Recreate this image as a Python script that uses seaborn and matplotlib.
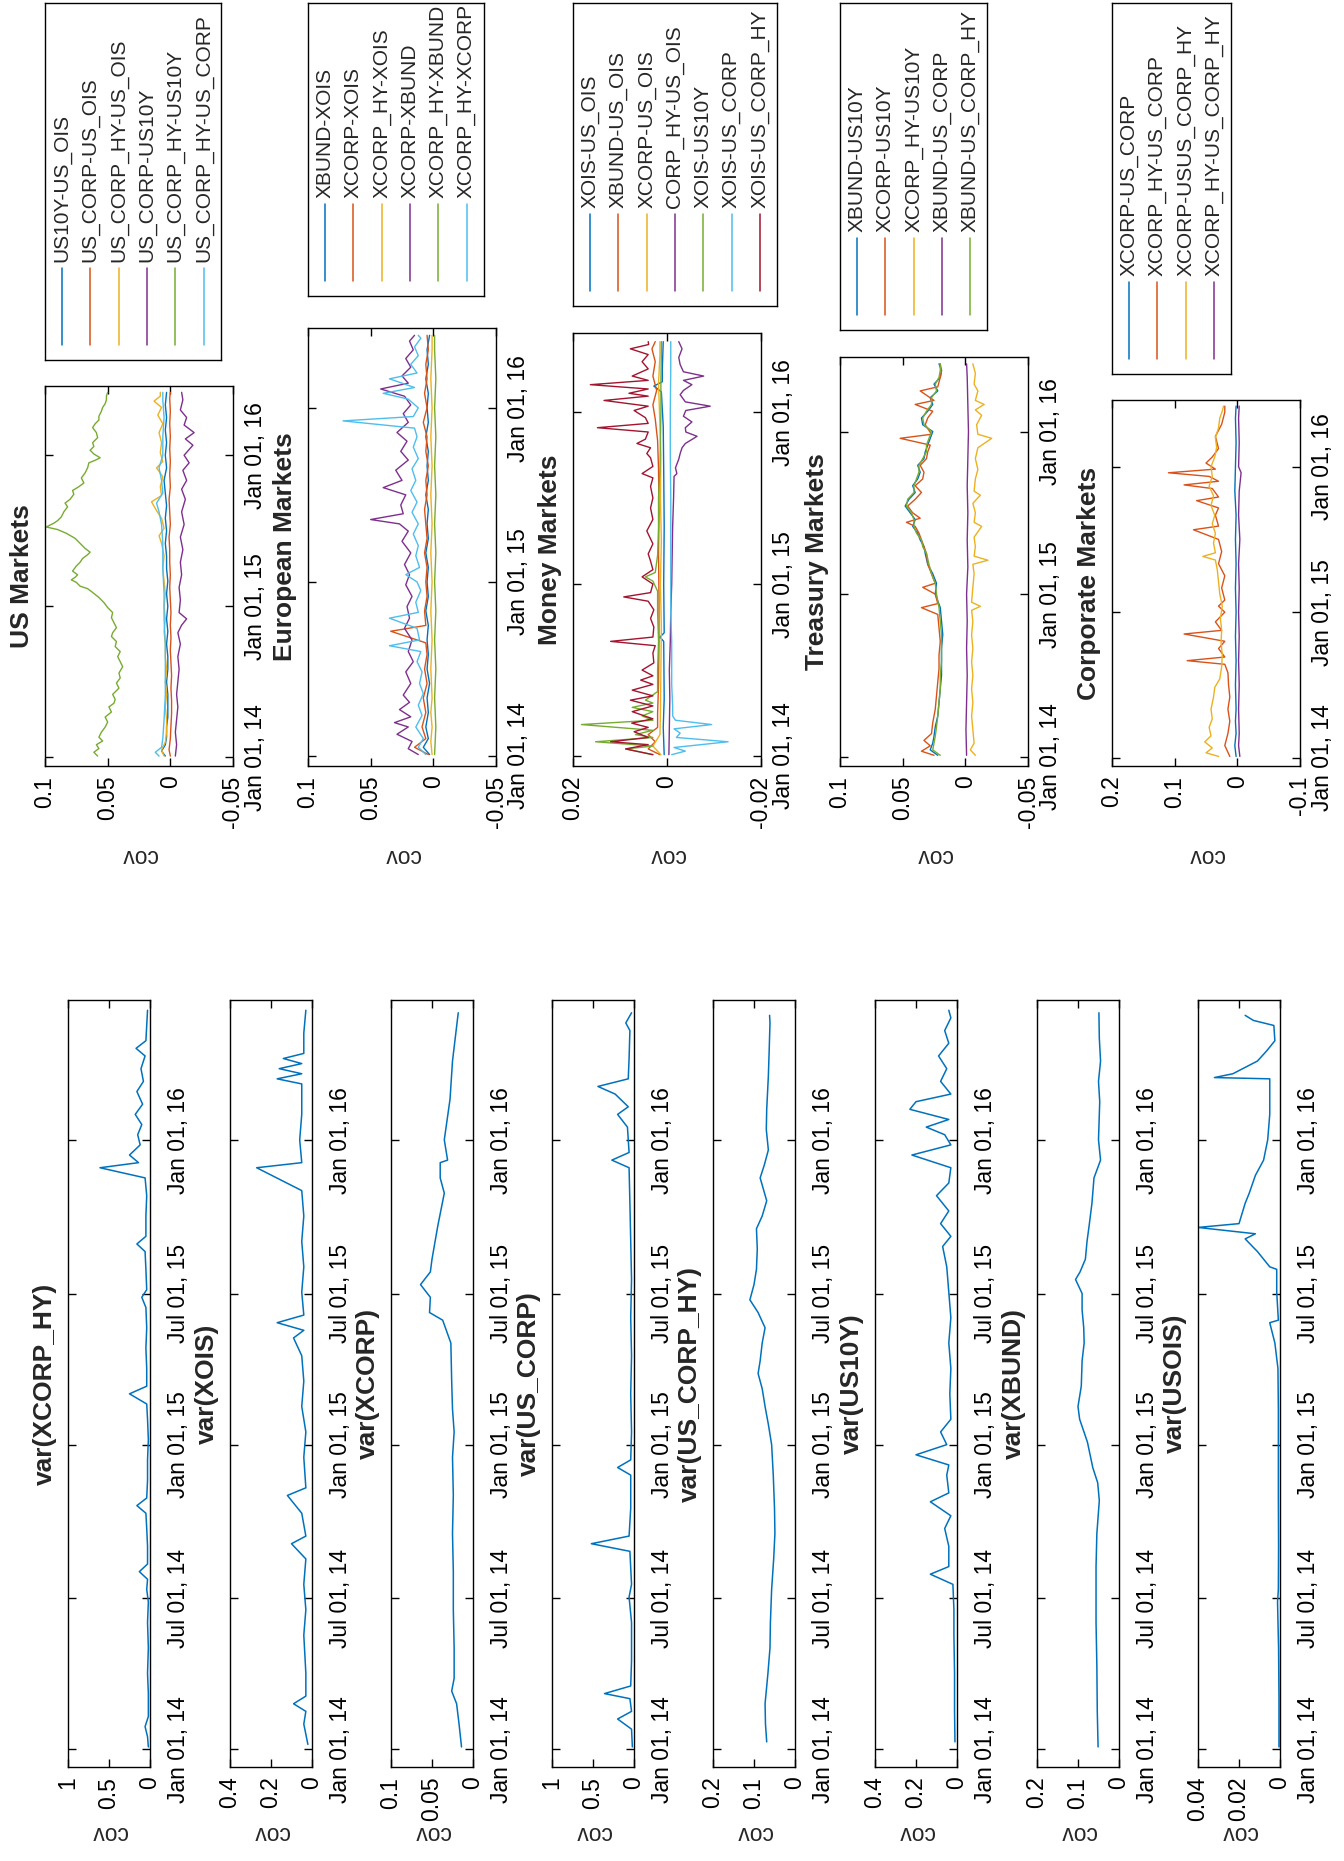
import numpy as np
import pandas as pd
import matplotlib
matplotlib.use("Agg")
import matplotlib.pyplot as plt
import matplotlib.dates as mdates
import seaborn as sns

# ---------------------------------------------------------------
# DATA  (time = months since 2014-01-01, value = covariance)
# ---------------------------------------------------------------
var_titles = ["var(XCORP_HY)", "var(XOIS)", "var(XCORP)", "var(US_CORP)",
              "var(US_CORP_HY)", "var(US10Y)", "var(XBUND)", "var(USOIS)"]

var_xcorp_hy = [(0.1,0.02),(0.5,0.03),(0.9,0.06),(1.3,0.02),(2.2,0.02),(3.0,0.03),(4.0,0.02),(5.0,0.03),
                (5.8,0.02),(6.3,0.04),(6.7,0.03),(7.0,0.13),(7.3,0.03),(8.0,0.03),(8.7,0.04),(9.3,0.05),
                (9.6,0.16),(9.9,0.04),(10.6,0.03),(11.4,0.03),(12.2,0.02),(13.0,0.03),(13.6,0.04),(14.0,0.25),
                (14.3,0.04),(15.0,0.04),(15.8,0.05),(16.6,0.04),(17.4,0.05),(17.8,0.10),(18.1,0.04),(18.9,0.05),
                (19.6,0.06),(19.9,0.16),(20.2,0.05),(21.0,0.05),(21.8,0.04),(22.5,0.06),(22.9,0.61),(23.1,0.14),
                (23.4,0.25),(23.8,0.12),(24.2,0.15),(24.6,0.10),(25.0,0.18),(25.4,0.09),(25.9,0.16),(26.3,0.08),
                (26.8,0.11),(27.3,0.06),(27.6,0.17),(27.9,0.05),(28.5,0.04),(29.1,0.03)]
var_xois = [(0.2,0.02),(1.0,0.04),(1.5,0.03),(1.8,0.09),(2.1,0.03),(3.0,0.03),(4.5,0.04),(5.5,0.03),
            (6.5,0.04),(7.5,0.03),(8.1,0.10),(8.4,0.03),(9.3,0.05),(10.0,0.12),(10.3,0.03),(11.5,0.04),
            (12.5,0.03),(13.5,0.05),(14.5,0.04),(15.5,0.05),(16.2,0.09),(16.5,0.04),(16.8,0.17),(17.1,0.04),
            (18.0,0.05),(19.0,0.04),(20.0,0.05),(21.0,0.04),(22.0,0.05),(22.9,0.27),(23.1,0.05),(24.0,0.06),
            (25.0,0.05),(26.2,0.05),(26.4,0.17),(26.6,0.05),(26.8,0.16),(27.0,0.05),(27.2,0.14),(27.4,0.04),
            (28.2,0.04),(29.1,0.03)]
var_xcorp = [(0.1,0.014),(1.0,0.017),(1.8,0.020),(2.3,0.026),(2.8,0.023),(4.0,0.023),(5.5,0.024),(7.0,0.024),
             (8.5,0.025),(10.0,0.024),(11.5,0.025),(12.5,0.023),(13.4,0.025),(14.5,0.026),(16.0,0.027),
             (16.9,0.037),(17.2,0.053),(17.8,0.052),(18.3,0.064),(18.8,0.052),(19.3,0.050),(20.6,0.043),
             (21.9,0.035),(22.5,0.040),(23.1,0.040),(23.2,0.031),(24.0,0.035),(25.6,0.028),(27.1,0.025),
             (29.0,0.018)]
var_us_corp = [(0.1,0.02),(0.8,0.03),(1.2,0.20),(1.5,0.03),(2.0,0.05),(2.2,0.36),(2.5,0.04),(3.5,0.03),
               (5.0,0.03),(6.0,0.06),(6.5,0.03),(7.8,0.05),(8.1,0.52),(8.4,0.06),(9.5,0.04),(10.8,0.04),
               (11.1,0.20),(11.4,0.04),(12.5,0.03),(14.0,0.04),(15.5,0.03),(17.0,0.04),(18.5,0.03),(20.0,0.04),
               (21.5,0.05),(22.9,0.06),(23.2,0.27),(23.5,0.06),(24.5,0.08),(25.0,0.20),(25.3,0.07),(25.8,0.23),
               (26.1,0.44),(26.4,0.07),(27.2,0.06),(28.3,0.05),(28.6,0.10),(29.0,0.03)]
var_us_corp_hy = [(0.3,0.069),(1.0,0.072),(1.8,0.073),(3.0,0.066),(4.0,0.061),(5.0,0.060),(6.3,0.057),
                  (7.5,0.052),(8.5,0.049),(9.5,0.050),(10.8,0.053),(12.0,0.057),(12.8,0.065),(13.5,0.073),
                  (14.2,0.080),(14.8,0.090),(15.3,0.085),(16.0,0.080),(16.6,0.073),(17.2,0.090),(17.7,0.110),
                  (18.3,0.100),(18.9,0.094),(19.7,0.092),(20.5,0.094),(21.0,0.080),(21.6,0.069),(22.5,0.085),
                  (23.0,0.075),(23.6,0.065),(24.4,0.070),(25.2,0.069),(26.5,0.065),(27.5,0.063),(28.6,0.061),
                  (28.9,0.062)]
var_us10y = [(0.3,0.010),(1.5,0.012),(3.0,0.012),(4.5,0.015),(5.5,0.015),(6.5,0.020),(6.9,0.130),(7.2,0.040),
             (8.0,0.040),(8.7,0.060),(9.2,0.030),(9.75,0.130),(10.1,0.040),(10.8,0.050),(11.2,0.040),
             (11.6,0.200),(12.0,0.050),(12.5,0.080),(13.0,0.030),(14.0,0.035),(15.0,0.030),(16.0,0.040),
             (17.0,0.030),(18.0,0.040),(19.0,0.050),(19.8,0.070),(20.2,0.030),(20.7,0.080),(21.2,0.040),
             (21.8,0.100),(22.3,0.040),(22.9,0.030),(23.4,0.220),(23.8,0.030),(24.2,0.060),(24.5,0.150),
             (24.8,0.040),(25.2,0.230),(25.5,0.200),(25.8,0.030),(26.3,0.080),(26.8,0.050),(27.3,0.090),
             (27.8,0.040),(28.3,0.060),(28.8,0.030),(29.1,0.040)]
var_xbund = [(0.1,0.051),(1.5,0.053),(3.3,0.054),(5.0,0.056),(7.2,0.056),(8.5,0.054),(9.8,0.048),(10.5,0.052),
             (11.1,0.064),(12.1,0.077),(13.0,0.096),(13.5,0.100),(14.3,0.092),(15.3,0.090),(16.0,0.085),
             (16.6,0.086),(17.3,0.090),(17.95,0.090),(18.5,0.106),(18.8,0.095),(19.3,0.082),(20.0,0.078),
             (20.6,0.073),(21.5,0.066),(22.5,0.061),(23.2,0.045),(24.0,0.050),(24.5,0.049),(25.5,0.047),
             (26.3,0.050),(27.1,0.045),(28.0,0.048),(29.0,0.049)]
var_usois = [(0.1,0.0005),(2.0,0.0005),(4.0,0.0007),(5.8,0.0012),(6.3,0.0008),(8.0,0.0007),(10.0,0.0008),
             (12.0,0.0008),(13.4,0.0008),(15.0,0.0010),(16.0,0.0025),(16.8,0.0050),(16.9,0.0008),
             (18.0,0.0016),(18.9,0.0016),(19.0,0.0050),(19.6,0.0110),(20.1,0.0170),(20.3,0.0120),
             (20.55,0.0400),(20.7,0.0200),(21.5,0.0170),(21.9,0.0150),(22.6,0.0120),(23.2,0.0080),
             (24.0,0.0060),(25.0,0.0050),(26.4,0.0050),(26.45,0.0320),(26.6,0.0230),(27.1,0.0110),
             (27.5,0.0065),(27.9,0.0025),(28.5,0.0030),(28.7,0.0130),(28.9,0.0170)]

var_ranges = [(0, 1), (0, 0.4), (0, 0.1), (0, 1), (0, 0.2), (0, 0.4), (0, 0.2), (0, 0.04)]
var_ticks = [[0, 0.5, 1], [0, 0.2, 0.4], [0, 0.05, 0.1], [0, 0.5, 1],
             [0, 0.1, 0.2], [0, 0.2, 0.4], [0, 0.1, 0.2], [0, 0.02, 0.04]]
var_ticklabels = [["0", "0.5", "1"], ["0", "0.2", "0.4"], ["0", "0.05", "0.1"], ["0", "0.5", "1"],
                  ["0", "0.1", "0.2"], ["0", "0.2", "0.4"], ["0", "0.1", "0.2"], ["0", "0.02", "0.04"]]

# --- US Markets
us_names = ["US10Y-US_OIS", "US_CORP-US_OIS", "US_CORP_HY-US_OIS", "US_CORP-US10Y",
            "US_CORP_HY-US10Y", "US_CORP_HY-US_CORP"]
us_1 = [(0.1,0.004),(0.5,0.007),(1.0,0.004),(1.6,0.003),(2.4,0.003),(3.2,0.002),(4.0,0.002),(5.0,0.002),
        (6.0,0.003),(7.0,0.002),(8.0,0.002),(9.0,0.003),(10.0,0.002),(11.0,0.003),(12.0,0.002),(13.0,0.003),
        (14.0,0.002),(15.0,0.003),(16.0,0.003),(17.0,0.004),(18.0,0.003),(19.0,0.004),(20.0,0.003),
        (21.0,0.004),(22.0,0.005),(23.0,0.003),(24.0,0.004),(25.0,0.003),(26.0,0.004),(27.0,0.003),
        (28.0,0.004),(29.0,0.003)]
us_2 = [(0.1,0.000),(0.6,0.001),(1.5,0.000),(2.5,-0.0005),(3.5,-0.001),(4.5,-0.001),(5.5,-0.0005),
        (6.5,-0.001),(7.5,-0.0005),(8.5,0.000),(9.5,-0.0005),(10.5,0.000),(11.5,-0.0005),(12.5,0.000),
        (13.5,0.0005),(14.5,0.000),(15.5,0.0005),(16.5,0.0005),(17.5,0.001),(18.5,0.000),(19.5,0.0005),
        (20.5,0.001),(21.5,0.000),(22.5,0.0005),(23.5,0.000),(24.5,0.0005),(25.5,0.000),(26.5,0.0005),
        (27.5,0.000),(28.5,0.0005),(29.0,0.000)]
us_3 = [(0.1,0.005),(0.6,0.007),(1.2,0.004),(2.0,0.003),(3.0,0.003),(4.0,0.004),(5.0,0.003),(6.0,0.004),
        (7.0,0.003),(8.0,0.004),(9.0,0.004),(10.0,0.005),(11.0,0.004),(12.0,0.005),(13.0,0.004),(14.0,0.005),
        (15.0,0.006),(16.0,0.005),(17.0,0.007),(17.6,0.009),(18.2,0.005),(19.0,0.007),(19.6,0.011),
        (20.3,0.015),(20.8,0.007),(21.5,0.008),(22.3,0.006),(23.0,0.011),(23.5,0.006),(24.2,0.008),
        (25.0,0.007),(25.8,0.009),(26.5,0.006),(27.2,0.010),(27.8,0.007),(28.3,0.013),(28.7,0.008),(29.0,0.008)]
us_4 = [(0.1,-0.004),(1.0,-0.005),(2.0,-0.004),(3.0,-0.005),(4.0,-0.006),(5.0,-0.005),(6.0,-0.006),
        (7.0,-0.007),(8.0,-0.006),(9.0,-0.008),(9.9,-0.006),(10.5,-0.009),(11.0,-0.013),(11.5,-0.007),
        (12.5,-0.008),(13.5,-0.007),(14.5,-0.009),(15.5,-0.008),(16.5,-0.010),(17.5,-0.008),(18.5,-0.011),
        (19.5,-0.009),(20.5,-0.012),(21.3,-0.009),(22.0,-0.013),(22.8,-0.010),(23.4,-0.015),(24.0,-0.011),
        (24.8,-0.018),(25.3,-0.012),(25.8,-0.019),(26.4,-0.011),(27.0,-0.013),(27.6,-0.008),(28.4,-0.010),
        (29.0,-0.009)]
us_5 = [(0.1,0.058),(0.4,0.061),(0.7,0.057),(1.0,0.059),(1.3,0.054),(1.6,0.057),(2.0,0.055),(2.4,0.052),
        (2.8,0.050),(3.2,0.052),(3.6,0.047),(4.0,0.049),(4.3,0.045),(4.6,0.044),(5.0,0.046),(5.5,0.041),
        (5.9,0.043),(6.3,0.040),(6.7,0.041),(7.2,0.038),(7.6,0.040),(8.0,0.042),(8.4,0.040),(8.8,0.044),
        (9.2,0.043),(9.6,0.047),(9.9,0.046),(10.3,0.043),(10.7,0.045),(11.1,0.047),(11.5,0.046),(11.9,0.050),
        (12.3,0.053),(12.7,0.057),(13.1,0.062),(13.4,0.066),(13.6,0.072),(13.9,0.075),(14.1,0.079),
        (14.3,0.076),(14.5,0.074),(14.8,0.078),(15.2,0.075),(15.5,0.072),(15.8,0.070),(16.1,0.066),
        (16.3,0.064),(16.6,0.068),(17.0,0.072),(17.4,0.076),(17.8,0.083),(18.1,0.090),(18.3,0.099),
        (18.6,0.093),(18.8,0.090),(19.1,0.087),(19.5,0.085),(19.9,0.082),(20.2,0.084),(20.5,0.080),
        (20.9,0.077),(21.2,0.078),(21.5,0.073),(21.8,0.069),(22.2,0.071),(22.6,0.068),(23.0,0.066),
        (23.4,0.065),(23.6,0.060),(23.8,0.056),(24.1,0.061),(24.4,0.064),(24.7,0.061),(25.0,0.062),
        (25.4,0.058),(25.8,0.059),(26.2,0.062),(26.5,0.060),(26.8,0.057),(27.1,0.057),(27.5,0.055),
        (27.8,0.054),(28.1,0.052),(28.4,0.051),(28.7,0.051),(29.0,0.050)]
us_6 = [(0.1,0.009),(0.4,0.012),(0.8,0.007),(1.5,0.006),(3.0,0.005),(5.0,0.004),(7.0,0.004),(9.0,0.004),
        (11.0,0.005),(13.0,0.005),(15.0,0.006),(17.0,0.006),(18.5,0.007),(19.5,0.009),(20.2,0.011),
        (21.0,0.006),(22.0,0.007),(23.0,0.009),(24.0,0.006),(25.5,0.006),(27.0,0.005),(28.4,0.006),(29.0,0.006)]

# --- European Markets
eu_names = ["XBUND-XOIS", "XCORP-XOIS", "XCORP_HY-XOIS", "XCORP-XBUND", "XCORP_HY-XBUND", "XCORP_HY-XCORP"]
eu_1 = [(0.1,0.003),(0.6,0.008),(1.2,0.004),(2.0,0.006),(3.0,0.004),(4.0,0.005),(5.0,0.003),(6.0,0.005),
        (7.0,0.004),(8.0,0.005),(9.0,0.004),(10.0,0.006),(11.0,0.004),(12.0,0.005),(13.0,0.004),(14.0,0.006),
        (15.0,0.004),(16.0,0.005),(17.0,0.004),(18.0,0.006),(19.0,0.004),(20.0,0.005),(21.0,0.004),
        (22.0,0.006),(23.0,0.004),(24.0,0.005),(25.0,0.004),(26.0,0.006),(27.0,0.004),(28.0,0.005),(29.0,0.003)]
eu_2 = [(0.1,0.004),(0.6,0.015),(1.2,0.006),(2.0,0.009),(3.0,0.006),(4.0,0.008),(5.0,0.005),(6.0,0.007),
        (7.0,0.005),(7.8,0.006),(8.6,0.034),(9.0,0.006),(10.0,0.007),(11.0,0.005),(12.0,0.006),(13.0,0.005),
        (14.0,0.007),(15.0,0.005),(16.0,0.006),(17.0,0.007),(18.0,0.005),(19.0,0.006),(20.0,0.004),
        (21.0,0.006),(22.0,0.005),(23.0,0.008),(24.0,0.005),(25.0,0.007),(26.0,0.005),(27.0,0.006),
        (28.0,0.004),(29.0,0.005)]
eu_3 = [(0.1,0.001),(1.0,0.002),(2.0,0.001),(3.0,0.002),(4.0,0.001),(6.0,0.002),(8.0,0.001),(10.0,0.002),
        (12.0,0.001),(14.0,0.002),(16.0,0.001),(18.0,0.002),(20.0,0.001),(22.0,0.002),(24.0,0.001),
        (26.0,0.002),(28.0,0.001),(29.0,0.001)]
eu_4 = [(0.1,0.012),(0.5,0.020),(1.0,0.017),(1.5,0.029),(2.0,0.020),(2.3,0.031),(2.7,0.018),(3.2,0.027),
        (3.7,0.019),(4.2,0.024),(5.0,0.018),(5.8,0.022),(6.5,0.016),(7.2,0.020),(8.0,0.017),(8.8,0.023),
        (9.5,0.019),(10.3,0.021),(11.0,0.017),(11.8,0.022),(12.5,0.019),(13.2,0.023),(14.0,0.018),
        (14.8,0.025),(15.5,0.020),(16.0,0.027),(16.3,0.050),(16.7,0.024),(17.3,0.026),(18.0,0.022),
        (18.5,0.040),(19.0,0.025),(19.7,0.030),(20.4,0.020),(21.0,0.026),(21.7,0.021),(22.3,0.029),
        (23.0,0.020),(23.6,0.024),(24.2,0.018),(24.8,0.023),(25.3,0.042),(25.7,0.020),(26.2,0.025),
        (26.8,0.018),(27.4,0.022),(28.0,0.016),(28.6,0.019),(29.0,0.015)]
eu_5 = [(0.1,-0.001),(2.0,-0.002),(4.0,-0.001),(6.0,-0.002),(8.0,-0.001),(10.0,-0.002),(12.0,-0.001),
        (14.0,-0.002),(16.0,-0.001),(18.0,-0.002),(20.0,-0.001),(22.0,-0.002),(24.0,-0.001),(26.0,-0.002),
        (28.0,-0.001),(29.0,-0.001)]
eu_6 = [(0.1,0.006),(0.6,0.012),(1.2,0.008),(2.0,0.014),(2.8,0.009),(3.5,0.012),(4.3,0.008),(5.0,0.011),
        (5.8,0.009),(6.5,0.013),(7.2,0.010),(7.6,0.035),(8.0,0.011),(8.8,0.013),(9.5,0.035),(9.9,0.012),
        (10.6,0.014),(11.4,0.010),(12.0,0.013),(12.5,0.022),(13.0,0.011),(13.8,0.014),(14.5,0.012),
        (15.3,0.016),(16.0,0.012),(16.8,0.017),(17.5,0.013),(18.3,0.018),(19.0,0.014),(19.8,0.017),
        (20.5,0.012),(21.3,0.016),(22.0,0.013),(22.6,0.015),(23.1,0.072),(23.4,0.016),(24.0,0.012),
        (24.6,0.020),(25.0,0.040),(25.4,0.015),(26.0,0.035),(26.4,0.013),(27.0,0.018),(27.6,0.012),
        (28.2,0.015),(28.8,0.010),(29.0,0.012)]

# --- Money Markets
mm_names = ["XOIS-US_OIS", "XBUND-US_OIS", "XCORP-US_OIS", "CORP_HY-US_OIS", "XOIS-US10Y",
            "XOIS-US_CORP", "XOIS-US_CORP_HY"]
mm_1 = [(0.1,0.0006),(2.0,0.0008),(4.0,0.0006),(8.0,0.0007),(8.3,0.0015),(8.6,0.0006),(12.0,0.0007),
        (16.0,0.0006),(20.0,0.0007),(23.0,0.0008),(25.4,0.0012),(25.8,0.0028),(26.1,0.0010),(27.0,0.0010),
        (28.9,0.0008)]
mm_2 = [(0.1,0.0015),(0.5,0.0040),(1.0,0.0025),(1.5,0.0040),(2.0,0.0020),(3.0,0.0020),(5.0,0.0018),
        (8.0,0.0017),(11.0,0.0017),(14.0,0.0018),(17.0,0.0017),(20.0,0.0018),(22.0,0.0020),(23.5,0.0025),
        (24.5,0.0030),(25.5,0.0022),(26.5,0.0030),(27.5,0.0025),(28.4,0.0032),(28.9,0.0025)]
mm_3 = [(0.1,0.0013),(0.7,0.0030),(1.5,0.0015),(3.0,0.0014),(6.0,0.0013),(9.0,0.0012),(12.0,0.0014),
        (15.0,0.0012),(18.0,0.0014),(21.0,0.0013),(24.0,0.0016),(26.0,0.0018),(28.0,0.0015),(28.9,0.0015)]
mm_4 = [(0.1,-0.0004),(2.0,-0.0005),(4.0,-0.0006),(6.0,-0.0005),(8.0,-0.0007),(10.0,-0.0008),(12.0,-0.0010),
        (14.0,-0.0011),(16.0,-0.0012),(18.0,-0.0014),(19.5,-0.0015),(19.7,-0.0021),(20.1,-0.0018),
        (20.7,-0.0025),(21.1,-0.0028),(21.5,-0.0032),(21.8,-0.0039),(22.3,-0.0064),(22.6,-0.0040),
        (22.9,-0.0039),(23.3,-0.0053),(23.7,-0.0035),(24.1,-0.0040),(24.4,-0.0092),(24.7,-0.0039),
        (25.2,-0.0028),(25.5,-0.0035),(25.9,-0.0053),(26.2,-0.0035),(26.5,-0.0078),(26.8,-0.0035),
        (27.3,-0.0028),(27.8,-0.0025),(28.4,-0.0032),(28.9,-0.0025)]
mm_5 = [(0.1,0.0030),(0.5,0.0088),(0.7,0.0030),(1.0,0.0152),(1.3,0.0030),(1.5,0.0067),(1.8,0.0030),
        (2.2,0.0182),(2.5,0.0030),(2.8,0.0053),(3.1,0.0030),(3.4,0.0074),(3.7,0.0030),(3.9,0.0046),
        (4.5,0.0020),(6.0,0.0020),(8.0,0.0018),(10.0,0.0020),(11.5,0.0020),(12.2,0.0030),(12.5,0.0046),
        (12.8,0.0025),(14.0,0.0020),(16.0,0.0018),(18.0,0.0018),(20.0,0.0015),(22.0,0.0014),(24.0,0.0013),
        (26.0,0.0013),(28.0,0.0012),(28.9,0.0012)]
mm_6 = [(0.1,-0.0010),(0.35,-0.0039),(0.6,-0.0015),(1.0,-0.0130),(1.3,-0.0020),(1.6,-0.0028),(1.9,-0.0015),
        (2.2,-0.0095),(2.5,-0.0018),(2.8,-0.0012),(3.5,-0.0012),(5.0,-0.0010),(8.0,-0.0010),(10.0,-0.0008),
        (12.0,-0.0008),(15.0,-0.0008),(18.0,-0.0008),(21.0,-0.0007),(24.0,-0.0007),(27.0,-0.0008),
        (28.9,-0.0008)]
mm_7 = [(0.1,0.0030),(0.5,0.0088),(0.8,0.0040),(1.0,0.0120),(1.3,0.0040),(1.7,0.0070),(2.0,0.0040),
        (2.3,0.0075),(2.6,0.0030),(3.1,0.0074),(3.5,0.0030),(3.9,0.0078),(4.2,0.0030),(4.6,0.0074),
        (5.0,0.0030),(5.3,0.0056),(5.6,0.0030),(6.0,0.0053),(6.5,0.0028),(7.2,0.0030),(7.7,0.0025),
        (8.0,0.0120),(8.3,0.0030),(9.0,0.0028),(9.6,0.0035),(10.2,0.0028),(10.8,0.0040),(11.1,0.0092),
        (11.4,0.0035),(12.0,0.0030),(12.5,0.0053),(13.0,0.0030),(13.6,0.0035),(14.1,0.0040),(14.8,0.0030),
        (15.7,0.0043),(16.5,0.0030),(17.3,0.0035),(18.0,0.0030),(18.8,0.0035),(19.4,0.0030),(19.7,0.0053),
        (20.2,0.0030),(20.8,0.0035),(21.1,0.0043),(21.5,0.0035),(21.8,0.0064),(22.1,0.0046),(22.6,0.0040),
        (22.9,0.0148),(23.2,0.0040),(23.6,0.0046),(24.1,0.0070),(24.4,0.0040),(24.8,0.0134),(25.1,0.0040),
        (25.3,0.0081),(25.6,0.0040),(25.9,0.0163),(26.2,0.0040),(26.5,0.0074),(27.0,0.0040),(27.5,0.0053),
        (28.0,0.0040),(28.4,0.0078),(28.7,0.0039),(28.9,0.0040)]

# --- Treasury Markets
tr_names = ["XBUND-US10Y", "XCORP-US10Y", "XCORP_HY-US10Y", "XBUND-US_CORP", "XBUND-US_CORP_HY"]
tr_1 = [(0.1,0.022),(0.5,0.028),(1.0,0.026),(1.5,0.025),(2.2,0.024),(3.0,0.022),(4.0,0.021),(5.0,0.020),
        (6.0,0.019),(7.0,0.019),(8.0,0.019),(9.0,0.018),(10.0,0.019),(11.0,0.020),(12.0,0.024),(12.8,0.023),
        (13.5,0.026),(14.2,0.030),(15.0,0.032),(15.5,0.033),(16.0,0.036),(16.5,0.038),(17.0,0.042),
        (17.5,0.040),(18.0,0.044),(18.5,0.048),(19.0,0.045),(19.5,0.040),(20.0,0.042),(20.5,0.038),
        (21.0,0.036),(21.5,0.038),(22.0,0.033),(22.5,0.032),(23.0,0.030),(23.5,0.028),(24.0,0.026),
        (24.5,0.034),(25.0,0.035),(25.5,0.030),(26.0,0.026),(26.5,0.028),(27.0,0.022),(27.5,0.025),
        (28.0,0.020),(28.5,0.019),(29.0,0.021)]
tr_2 = [(0.1,0.025),(0.4,0.035),(0.8,0.028),(1.2,0.033),(1.7,0.027),(2.5,0.026),(3.5,0.024),(4.5,0.023),
        (5.5,0.022),(6.5,0.021),(7.5,0.021),(8.5,0.020),(9.5,0.021),(10.5,0.022),(11.0,0.035),(11.3,0.022),
        (12.0,0.024),(12.5,0.034),(12.8,0.024),(13.5,0.027),(14.2,0.030),(15.0,0.031),(15.5,0.033),
        (16.0,0.035),(16.5,0.037),(17.0,0.040),(17.3,0.047),(17.6,0.036),(18.0,0.042),(18.5,0.046),
        (19.0,0.040),(19.5,0.035),(20.0,0.040),(20.5,0.034),(21.0,0.033),(21.5,0.036),(22.0,0.031),
        (22.5,0.030),(23.0,0.028),(23.5,0.052),(23.8,0.027),(24.5,0.032),(25.0,0.030),(25.5,0.026),
        (26.0,0.040),(26.3,0.025),(27.0,0.036),(27.3,0.022),(28.0,0.020),(28.5,0.019),(29.0,0.020)]
tr_3 = [(0.1,-0.008),(0.5,-0.004),(1.0,-0.007),(2.0,-0.006),(3.0,-0.005),(4.0,-0.006),(5.0,-0.005),
        (6.0,-0.006),(7.0,-0.005),(8.0,-0.006),(9.0,-0.005),(10.0,-0.006),(10.8,-0.005),(11.1,-0.012),
        (11.4,-0.005),(12.5,-0.006),(13.5,-0.007),(14.2,-0.006),(14.5,-0.018),(14.8,-0.007),(15.5,-0.008),
        (16.2,-0.007),(17.0,-0.013),(17.3,-0.007),(18.0,-0.008),(18.7,-0.006),(19.3,-0.012),(19.6,-0.007),
        (20.5,-0.008),(21.2,-0.010),(22.0,-0.008),(22.8,-0.010),(23.5,-0.021),(23.8,-0.010),(24.5,-0.009),
        (25.2,-0.013),(25.6,-0.008),(26.0,-0.015),(26.3,-0.008),(27.0,-0.010),(27.5,-0.007),(28.3,-0.008),
        (29.0,-0.006)]
tr_4 = [(0.1,-0.001),(2.0,-0.0005),(4.0,-0.001),(6.0,-0.0015),(8.0,-0.001),(10.0,-0.0015),(12.0,-0.001),
        (14.0,-0.002),(16.0,-0.0015),(18.0,-0.002),(20.0,-0.0015),(22.0,-0.002),(24.0,-0.0025),
        (26.0,-0.002),(28.0,-0.0015),(29.0,-0.001)]
tr_5 = [(0.1,0.020),(0.5,0.026),(1.0,0.025),(1.5,0.024),(2.2,0.023),(3.0,0.022),(4.0,0.021),(5.0,0.020),
        (6.0,0.020),(7.0,0.019),(8.0,0.019),(9.0,0.019),(10.0,0.020),(11.0,0.021),(12.0,0.023),(12.8,0.024),
        (13.5,0.027),(14.2,0.029),(15.0,0.031),(15.5,0.034),(16.0,0.035),(16.5,0.039),(17.0,0.041),
        (17.5,0.041),(18.0,0.043),(18.5,0.047),(19.0,0.046),(19.5,0.041),(20.0,0.041),(20.5,0.039),
        (21.0,0.037),(21.5,0.037),(22.0,0.034),(22.5,0.031),(23.0,0.031),(23.5,0.029),(24.0,0.027),
        (24.5,0.033),(25.0,0.034),(25.5,0.031),(26.0,0.027),(26.5,0.027),(27.0,0.023),(27.5,0.024),
        (28.0,0.021),(28.5,0.020),(29.0,0.020)]

# --- Corporate Markets
co_names = ["XCORP-US_CORP", "XCORP_HY-US_CORP", "XCORP-USUS_CORP_HY", "XCORP_HY-US_CORP_HY"]
co_1 = [(0.1,0.002),(1.0,0.004),(2.0,0.002),(3.0,0.003),(4.0,0.002),(6.0,0.003),(8.0,0.002),(10.0,0.003),
        (12.0,0.002),(14.0,0.003),(16.0,0.002),(18.0,0.003),(20.0,0.002),(22.0,0.004),(24.0,0.003),
        (26.0,0.002),(28.0,0.003),(29.0,0.002)]
co_2 = [(0.1,0.012),(1.0,0.020),(2.0,0.015),(3.0,0.012),(4.0,0.015),(5.0,0.012),(6.0,0.014),(7.0,0.015),
        (7.7,0.020),(8.0,0.080),(8.3,0.020),(9.0,0.030),(9.6,0.020),(10.2,0.085),(10.5,0.025),(11.2,0.035),
        (12.0,0.020),(12.5,0.030),(13.0,0.020),(14.0,0.025),(15.0,0.020),(16.0,0.030),(17.0,0.025),
        (18.0,0.030),(18.8,0.070),(19.1,0.030),(20.0,0.035),(20.6,0.030),(21.2,0.065),(21.5,0.030),
        (22.2,0.040),(22.5,0.085),(22.8,0.030),(23.2,0.045),(23.5,0.110),(23.8,0.035),(24.3,0.050),
        (24.8,0.040),(25.5,0.030),(26.5,0.035),(27.5,0.025),(28.5,0.020),(29.0,0.020)]
co_3 = [(0.1,0.030),(0.4,0.050),(0.8,0.040),(1.3,0.052),(1.8,0.042),(2.5,0.045),(3.2,0.040),(4.0,0.042),
        (5.0,0.038),(5.8,0.036),(6.5,0.028),(7.5,0.025),(8.5,0.024),(9.5,0.026),(10.5,0.025),(11.5,0.027),
        (12.5,0.024),(13.5,0.028),(14.5,0.030),(15.5,0.032),(16.3,0.035),(16.6,0.055),(16.9,0.035),
        (17.7,0.038),(18.5,0.035),(19.3,0.040),(20.0,0.036),(20.8,0.042),(21.6,0.038),(22.4,0.045),
        (23.2,0.040),(24.0,0.042),(24.8,0.036),(25.6,0.033),(26.4,0.035),(27.2,0.030),(28.0,0.028),
        (28.6,0.024),(29.0,0.022)]
co_4 = [(0.1,-0.004),(1.0,-0.002),(2.0,-0.003),(4.0,-0.002),(6.0,-0.003),(8.0,-0.002),(10.0,-0.003),
        (12.0,-0.002),(14.0,-0.003),(16.0,-0.002),(18.0,-0.004),(20.0,-0.002),(22.0,-0.003),(23.5,-0.006),
        (24.0,-0.002),(26.0,-0.003),(28.0,-0.002),(29.0,-0.003)]

mk_titles = ["US Markets", "European Markets", "Money Markets", "Treasury Markets", "Corporate Markets"]
mk_names = [us_names, eu_names, mm_names, tr_names, co_names]
mk_series = [[us_1, us_2, us_3, us_4, us_5, us_6],
             [eu_1, eu_2, eu_3, eu_4, eu_5, eu_6],
             [mm_1, mm_2, mm_3, mm_4, mm_5, mm_6, mm_7],
             [tr_1, tr_2, tr_3, tr_4, tr_5],
             [co_1, co_2, co_3, co_4]]
mk_ranges = [(-0.05, 0.1), (-0.05, 0.1), (-0.02, 0.02), (-0.05, 0.1), (-0.1, 0.2)]
mk_ticks = [[-0.05, 0, 0.05, 0.1], [-0.05, 0, 0.05, 0.1], [-0.02, 0, 0.02],
            [-0.05, 0, 0.05, 0.1], [-0.1, 0, 0.1, 0.2]]
mk_ticklabels = [["-0.05", "0", "0.05", "0.1"], ["-0.05", "0", "0.05", "0.1"], ["-0.02", "0", "0.02"],
                 ["-0.05", "0", "0.05", "0.1"], ["-0.1", "0", "0.1", "0.2"]]

var_date_ticks = ["2014-01-01", "2014-07-01", "2015-01-01", "2015-07-01", "2016-01-01"]
var_date_labels = ["Jan 01, 14", "Jul 01, 14", "Jan 01, 15", "Jul 01, 15", "Jan 01, 16"]
mk_date_ticks = ["2014-01-01", "2015-01-01", "2016-01-01"]
mk_date_labels = ["Jan 01, 14", "Jan 01, 15", "Jan 01, 16"]
time_limits = ("2013-12-11", "2016-06-17")

COLORS = ["#0072BD", "#D95319", "#EDB120", "#7E2F8E", "#77AC30", "#4DBEEE", "#A2142F"]

# ---------------------------------------------------------------
# LAYOUT (pixel coordinates of the page, origin top-left)
# ---------------------------------------------------------------
W, H = 1344, 1861
var_left = [68, 230, 391, 552, 713, 875, 1037, 1198]
var_w, var_top, var_bot = 82, 1000, 1767
mk_left = [45, 308, 573, 840, 1112]
mk_w, mk_bot = 188, 766
mk_top = [386, 328, 333, 357, 400]
leg_bot = [360, 296, 306, 330, 374]
leg_top = 3

TICK_FS = 16.5
TITLE_FS = 19
LEG_FS = 15

sns.set_theme(style="white")
plt.rcParams["font.family"] = ["Liberation Sans", "DejaVu Sans"]

fig = plt.figure(figsize=(W / 100, H / 100), dpi=100)
fig.patch.set_facecolor("white")


def px_axes(x0, y0, x1, y1):
    return fig.add_axes([x0 / W, 1 - y1 / H, (x1 - x0) / W, (y1 - y0) / H])


def months_to_num(ms):
    d = pd.Timestamp("2014-01-01") + pd.to_timedelta(np.asarray(ms, float) * 30.4375, unit="D")
    return mdates.date2num(d)


def frame(names, pair_lists):
    parts = []
    for n, pl in zip(names, pair_lists):
        arr = np.asarray(pl, float)
        parts.append(pd.DataFrame({"t": months_to_num(arr[:, 0]), "v": arr[:, 1], "s": n}))
    return pd.concat(parts, ignore_index=True)


def style_axes(ax, vrange, vticks, vlabels, dticks, dlabels, date_pad):
    lo, hi = vrange
    ax.set_xlim(hi, lo)  # value grows to the left
    ax.set_ylim(mdates.date2num(pd.Timestamp(time_limits[0])), mdates.date2num(pd.Timestamp(time_limits[1])))
    ax.set_xticks(vticks)
    ax.set_xticklabels(vlabels, rotation=90)
    ax.set_yticks(mdates.date2num(pd.to_datetime(dticks)))
    ax.set_yticklabels(dlabels)
    ax.set_xlabel("")
    ax.set_ylabel("")
    ax.tick_params(axis="x", direction="in", length=6, width=1, top=True, bottom=True,
                   labelsize=TICK_FS, pad=7, colors="black")
    ax.tick_params(axis="y", direction="in", length=6, width=1, left=True, right=True,
                   labelleft=False, labelright=True, labelsize=TICK_FS, pad=date_pad, colors="black")
    for t in ax.yaxis.get_major_ticks():
        t.label2.set_rotation(90)
        t.label2.set_va("center")
        t.label2.set_ha("left")
    for sp in ax.spines.values():
        sp.set_color("black")
        sp.set_linewidth(1.0)
    ax.grid(False)
    ax.set_facecolor("white")


# ---------------- variance panels ----------------
var_series = [var_xcorp_hy, var_xois, var_xcorp, var_us_corp, var_us_corp_hy, var_us10y, var_xbund, var_usois]
for i, title in enumerate(var_titles):
    x0 = var_left[i]
    ax = px_axes(x0, var_top, x0 + var_w, var_bot)
    df = frame([title], [var_series[i]])
    sns.lineplot(data=df, x="v", y="t", hue="s", palette=[COLORS[0]], orient="y",
                 estimator=None, legend=False, ax=ax, linewidth=1.1)
    style_axes(ax, var_ranges[i], var_ticks[i], var_ticklabels[i], var_date_ticks, var_date_labels, 12)
    fig.text((x0 - 11) / W, 1 - ((var_top + var_bot) / 2) / H, title, rotation=90,
             ha="right", va="center", fontsize=TITLE_FS, fontweight="bold")
    fig.text((x0 + var_w / 2) / W, 1 - 1833 / H, "cov", rotation=180, ha="center", va="center",
             fontsize=TICK_FS)

# ---------------- market panels ----------------
for i, title in enumerate(mk_titles):
    x0 = mk_left[i]
    y0 = mk_top[i]
    ax = px_axes(x0, y0, x0 + mk_w, mk_bot)
    names = mk_names[i]
    df = frame(names, mk_series[i])
    sns.lineplot(data=df, x="v", y="t", hue="s", hue_order=names, palette=COLORS[:len(names)],
                 orient="y", estimator=None, legend=False, ax=ax, linewidth=1.0)
    style_axes(ax, mk_ranges[i], mk_ticks[i], mk_ticklabels[i], mk_date_ticks, mk_date_labels, 8)
    fig.text((x0 - 11) / W, 1 - ((y0 + mk_bot) / 2) / H, title, rotation=90,
             ha="right", va="center", fontsize=TITLE_FS, fontweight="bold")
    fig.text((x0 + mk_w / 2) / W, 1 - 855 / H, "cov", rotation=180, ha="center", va="center",
             fontsize=TICK_FS)

    # legend (rotated): box above the panel, one vertical key per series
    n = len(names)
    lw_px = 34 + (n - 1) * 28.3
    lb = leg_bot[i]
    lax = px_axes(x0, leg_top, x0 + lw_px, lb)
    hpx = lb - leg_top
    lax.set_xlim(0, lw_px)
    lax.set_ylim(hpx, 0)
    lax.set_xticks([])
    lax.set_yticks([])
    for sp in lax.spines.values():
        sp.set_color("black")
        sp.set_linewidth(1.0)
    lax.set_facecolor("white")
    for k, nm in enumerate(names):
        xk = 17 + k * 28.3
        lax.plot([xk, xk], [hpx - 15, hpx - 92], color=COLORS[k], linewidth=1.1)
        lax.text(xk, hpx - 98, nm, rotation=90, ha="center", va="bottom", fontsize=LEG_FS)

fig.savefig("out.png", dpi=100, facecolor="white")
